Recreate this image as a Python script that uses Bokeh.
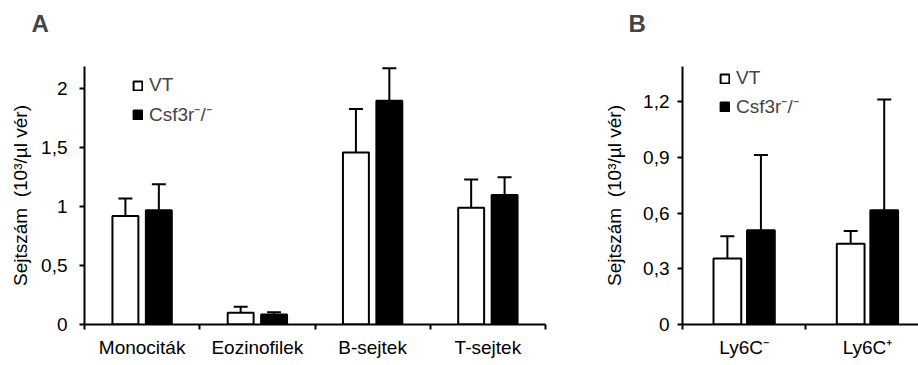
from bokeh.plotting import figure
from bokeh.models import (Range1d, FixedTicker, Whisker, TeeHead, ColumnDataSource,
                          Legend, LegendItem)
from bokeh.layouts import row
from bokeh.embed import file_html
from bokeh.resources import INLINE

FONT = "Liberation Sans"

# ---------------- data ----------------
series_labels = ["VT", "Csf3r⁻/⁻"]
y_label = "Sejtszám\u00a0 (10³/µl vér)"

a_categories = ["Monociták", "Eozinofilek", "B-sejtek", "T-sejtek"]
a_vt = [0.92, 0.10, 1.46, 0.99]
a_vt_err = [0.15, 0.05, 0.37, 0.24]
a_ko = [0.97, 0.085, 1.90, 1.10]
a_ko_err = [0.22, 0.02, 0.275, 0.15]
a_yticks = [0, 0.5, 1, 1.5, 2]
a_ytick_labels = ["0", "0,5", "1", "1,5", "2"]

b_categories = ["Ly6C⁻", "Ly6C⁺"]
b_vt = [0.355, 0.435]
b_vt_err = [0.12, 0.068]
b_ko = [0.507, 0.615]
b_ko_err = [0.405, 0.597]
b_yticks = [0, 0.3, 0.6, 0.9, 1.2]
b_ytick_labels = ["0", "0,3", "0,6", "0,9", "1,2"]


def make_panel(letter, cats, vt, vt_err, ko, ko_err, yticks, ytick_labels,
               width, x_end, y_end, border_left, border_right, offset,
               letter_offset, legend_loc, legend_spacing, ytick_standoff, ylabel_standoff):
    p = figure(width=width, height=365, output_backend="svg", toolbar_location=None,
               x_range=Range1d(0, x_end), y_range=Range1d(0, y_end),
               min_border_left=border_left, min_border_right=border_right,
               min_border_top=66, min_border_bottom=41)
    p.outline_line_color = None
    p.xgrid.grid_line_color = None
    p.ygrid.grid_line_color = None

    # panel letter; the trailing empty line lifts it above the frame
    p.title.text = letter + "\n"
    p.title.text_font = FONT
    p.title.text_font_size = "24px"
    p.title.text_font_style = "bold"
    p.title.text_line_height = 1.1
    p.title.align = "left"
    p.title.offset = letter_offset
    p.title.standoff = 0
    p.title.vertical_align = "bottom"

    n = len(cats)
    centers = [i + 0.5 for i in range(n)]
    src_vt = ColumnDataSource(dict(x=[c - offset for c in centers], top=vt,
                                   upper=[v + e for v, e in zip(vt, vt_err)]))
    src_ko = ColumnDataSource(dict(x=[c + offset for c in centers], top=ko,
                                   upper=[v + e for v, e in zip(ko, ko_err)]))

    for src in (src_vt, src_ko):
        p.add_layout(Whisker(source=src, base="x", upper="upper", lower="top",
                             dimension="height", line_color="black", line_width=2,
                             upper_head=TeeHead(size=14, line_color="black", line_width=2),
                             lower_head=None, level="underlay"))

    r_vt = p.vbar(x="x", top="top", bottom=0, width=0.225, source=src_vt,
                  fill_color="white", line_color="black", line_width=2)
    r_ko = p.vbar(x="x", top="top", bottom=0, width=0.225, source=src_ko,
                  fill_color="black", line_color="black", line_width=2)

    legend = Legend(items=[LegendItem(label=series_labels[0], renderers=[r_vt]),
                           LegendItem(label=series_labels[1], renderers=[r_ko])],
                    location=legend_loc, glyph_width=11, glyph_height=11,
                    label_text_font=FONT, label_text_font_size="19px",
                    label_standoff=6, padding=0, margin=0, spacing=legend_spacing,
                    background_fill_alpha=0, border_line_alpha=0,
                    label_height=22, label_text_baseline="middle")
    p.add_layout(legend)

    xa = p.xaxis[0]
    xa.ticker = FixedTicker(ticks=centers, minor_ticks=list(range(n + 1)))
    xa.major_label_overrides = {c: lab for c, lab in zip(centers, cats)}
    xa.major_tick_line_color = None
    xa.major_tick_out = 5
    xa.major_tick_in = 0
    xa.minor_tick_line_color = "black"
    xa.minor_tick_line_width = 2
    xa.minor_tick_out = 5
    xa.minor_tick_in = 0
    xa.axis_line_width = 2
    xa.axis_line_color = "black"
    xa.major_label_text_font = FONT
    xa.major_label_text_font_size = "19px"
    xa.major_label_text_color = "black"
    xa.major_label_standoff = 7

    ya = p.yaxis[0]
    ya.ticker = FixedTicker(ticks=yticks, minor_ticks=[])
    ya.major_label_overrides = {t: lab for t, lab in zip(yticks, ytick_labels)}
    ya.axis_line_width = 2
    ya.axis_line_color = "black"
    ya.major_tick_line_width = 2
    ya.major_tick_out = 5
    ya.major_tick_in = 0
    ya.minor_tick_line_color = None
    ya.major_label_text_font = FONT
    ya.major_label_text_font_size = "19px"
    ya.major_label_text_color = "black"
    ya.major_label_standoff = ytick_standoff
    ya.axis_label = y_label
    ya.axis_label_text_font = FONT
    ya.axis_label_text_font_size = "19px"
    ya.axis_label_text_font_style = "normal"
    ya.axis_label_text_color = "black"
    ya.axis_label_standoff = ylabel_standoff
    return p


pa = make_panel("A", a_categories, a_vt, a_vt_err, a_ko, a_ko_err, a_yticks, a_ytick_labels,
                width=568, x_end=4, y_end=2.19, border_left=84, border_right=23,
                offset=0.145, letter_offset=-53, legend_loc=(48, 197), legend_spacing=5,
                ytick_standoff=12, ylabel_standoff=7)
pb = make_panel("B", b_categories, b_vt, b_vt_err, b_ko, b_ko_err, b_yticks, b_ytick_labels,
                width=350, x_end=1.914, y_end=1.389, border_left=114, border_right=0,
                offset=0.136, letter_offset=-54, legend_loc=(37, 205), legend_spacing=4,
                ytick_standoff=8, ylabel_standoff=15)

layout = row(pa, pb)
open("out.html", "w").write(file_html(layout, INLINE))
